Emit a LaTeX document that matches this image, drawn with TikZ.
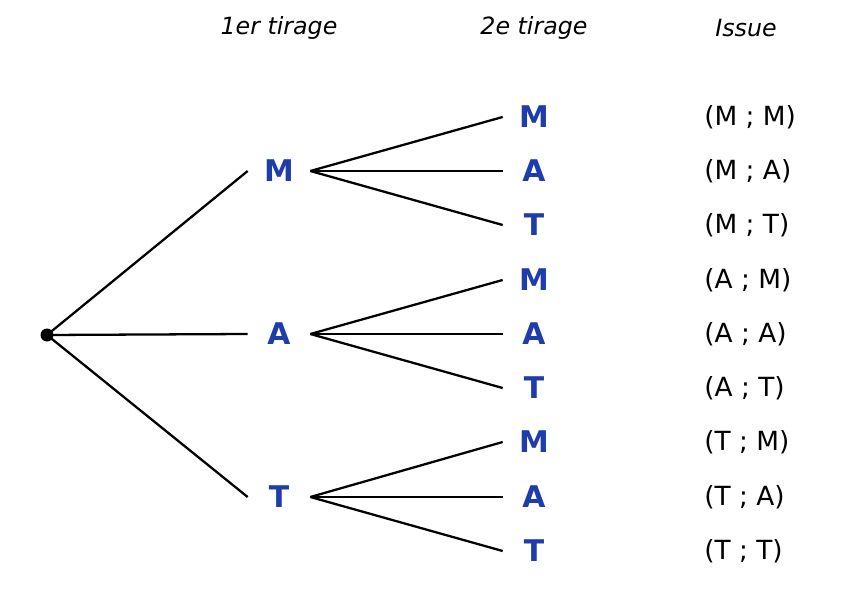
\documentclass[tikz,border=0pt]{standalone}
\usepackage{fontspec}
\setmainfont{DejaVu Sans}
\definecolor{tirblue}{RGB}{30,60,170}
\tikzset{
  choix/.style={font=\fontsize{17}{20}\selectfont\bfseries, text=tirblue, minimum width=1.24cm, inner sep=0pt},
  issue/.style={font=\fontsize{15}{18}\selectfont, anchor=west, inner sep=0pt},
  titre/.style={font=\fontsize{13.5}{16}\selectfont\itshape},
  branche/.style={line width=1.3pt}
}
\begin{document}
\begin{tikzpicture}[x=0.02cm, y=-0.02cm]
\useasboundingbox (0,0) rectangle (867,605);

% headers
\node[titre] (h1) at (279,28) {1er tirage};
\node[titre] (h2) at (534,28) {2e tirage};
\node[titre] (h3) at (746,28) {Issue};

% root
\fill (47,335) circle (6.5);
\coordinate (r) at (47,335);

% first level
\node[choix] (m) at (279,171) {M};
\node[choix] (a) at (279,334) {A};
\node[choix] (t) at (279,497) {T};
\foreach \n in {m,a,t} \draw[branche] (r) -- (\n.west);

% second level and outcomes
\foreach \p/\y [count=\i from 0] in {m/117,m/171,m/225,a/280,a/334,a/388,t/442,t/497,t/551} {
  \pgfmathtruncatemacro{\k}{mod(\i,3)}
  \ifcase\k \def\lab{M}\or \def\lab{A}\or \def\lab{T}\fi
  \node[choix] (s\i) at (534,\y) {\lab};
  \draw[branche] (\p.east) -- (s\i.west);
}
\node[issue] (i0) at (704,117) {(M ; M)};
\node[issue] (i1) at (704,171) {(M ; A)};
\node[issue] (i2) at (704,225) {(M ; T)};
\node[issue] (i3) at (704,280) {(A ; M)};
\node[issue] (i4) at (704,334) {(A ; A)};
\node[issue] (i5) at (704,388) {(A ; T)};
\node[issue] (i6) at (704,442) {(T ; M)};
\node[issue] (i7) at (704,497) {(T ; A)};
\node[issue] (i8) at (704,551) {(T ; T)};
\end{tikzpicture}
\end{document}
